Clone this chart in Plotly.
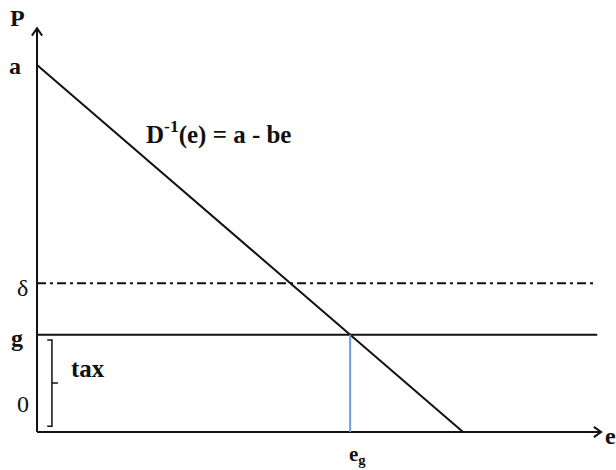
import plotly.graph_objects as go

# Model parameters (arbitrary units)
a = 10.0          # price intercept of the inverse demand curve
b = 1.0           # slope of the inverse demand curve
g = 2.65          # price floor g (equals the tax)
delta = 4.05      # reference price level delta
e_max = 13.24     # end of the e axis
p_max = 11.0      # end of the P axis

e_int = a / b           # demand hits zero price
e_g = (a - g) / b       # quantity at price g

INK = "#111111"
SERIF = "Liberation Serif, serif"

fig = go.Figure()

def seg(xs, ys, color=INK, width=2, dash="solid"):
    fig.add_trace(go.Scatter(x=xs, y=ys, mode="lines",
                             line=dict(color=color, width=width, dash=dash),
                             hoverinfo="skip", showlegend=False))

# axes
seg([0, 0], [0, p_max])
seg([0, e_max], [0, 0])
# open arrow heads
seg([-0.12, 0, 0.12], [p_max - 0.2, p_max, p_max - 0.2])
seg([e_max - 0.17, e_max, e_max - 0.17], [0.14, 0, -0.14])

# inverse demand D^-1(e) = a - b e
seg([0, e_int], [a, a - b * e_int])

# delta level (dash-dot) and g level
seg([0, 13.05], [delta, delta], width=2, dash="9px,4px,3px,4px")
seg([0, 13.15], [g, g], width=2)

# e_g drop line
seg([e_g, e_g], [0, g], color="#6f9ccf", width=2)

# tax bracket spanning 0..g
bx0, bx1, bt = 0.24, 0.35, 0.49
btop, bbot = g - 0.14, 0.16
seg([bx0, bx1, bx1, bx0], [btop, btop, bbot, bbot], width=1.5)
seg([bx1, bt], [(btop + bbot) / 2, (btop + bbot) / 2], width=1.5)

def label(x, y, text, size=24, bold=False):
    fig.add_annotation(x=x, y=y, text=text, showarrow=False,
                       xanchor="center", yanchor="middle",
                       font=dict(family=SERIF, size=size, color=INK,
                                 weight="bold" if bold else "normal"))

label(-0.47, 11.28, "P", bold=True)
label(-0.52, a - 0.02, "a", bold=True)
label(-0.33, delta - 0.12, "δ")
label(-0.47, g - 0.08, "g", bold=True)
label(-0.33, 0.76, "0")
label(1.2, 1.74, "tax", size=25, bold=True)
label(4.25, 8.15, "D<sup>-1</sup>(e) = a - be", size=25, bold=True)
label(e_g + 0.17, -0.63, "e<sub>g</sub>", size=21, bold=True)
label(13.47, -0.12, "e", size=24, bold=True)

fig.update_layout(
    width=616, height=470,
    margin=dict(l=0, r=0, t=0, b=0),
    paper_bgcolor="white", plot_bgcolor="white",
    font=dict(family=SERIF),
    xaxis=dict(range=[-0.869, 13.59], visible=False, fixedrange=True),
    yaxis=dict(range=[-1.035, 11.77], visible=False, fixedrange=True),
    showlegend=False,
)

fig.write_html("out.html")
